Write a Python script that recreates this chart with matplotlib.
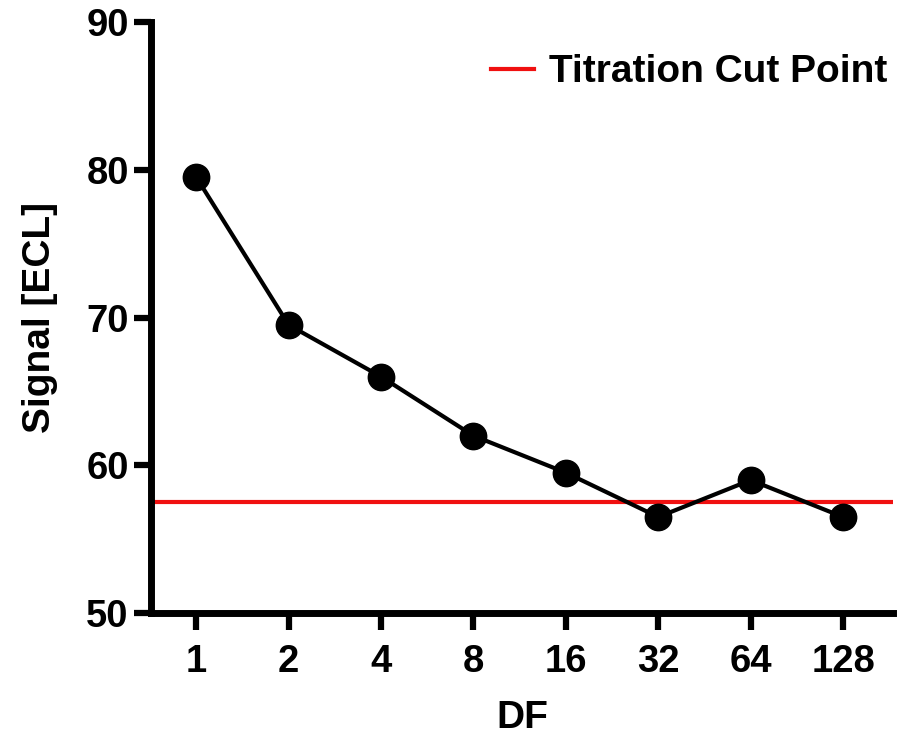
import matplotlib
matplotlib.use("Agg")
import matplotlib.pyplot as plt

categories = ["1", "2", "4", "8", "16", "32", "64", "128"]
signal = [79.5, 69.5, 66.0, 62.0, 59.5, 56.5, 59.0, 56.5]
cut_point = 57.5
yticks = [50, 60, 70, 80, 90]

plt.rcParams['font.family'] = ['Liberation Sans', 'DejaVu Sans']
plt.rcParams['font.weight'] = 'bold'

fig = plt.figure(figsize=(9.02, 7.37), dpi=100)
ax = fig.add_axes([0.1674, 0.1682, 0.8226, 0.8018])

x = list(range(len(categories)))
ax.axhline(cut_point, color='#f01010', lw=3.0, label='Titration Cut Point', zorder=2)
ax.plot(x, signal, color='black', lw=3.0, marker='o', markersize=19, zorder=3, clip_on=False)

ax.set_xlim(-0.49, 7.54)
ax.set_ylim(50, 90)
ax.set_xticks(x)
ax.set_xticklabels(categories)
ax.set_yticks(yticks)

for s in ['top', 'right']:
    ax.spines[s].set_visible(False)
for s in ['left', 'bottom']:
    ax.spines[s].set_linewidth(5)
ax.tick_params(axis='both', width=4.5, length=12, labelsize=27.5)
ax.tick_params(axis='x', pad=10)
ax.tick_params(axis='y', pad=4)

ax.set_xlabel('DF', fontsize=28, fontweight='bold', labelpad=15)
ax.set_ylabel('Signal [ECL]', fontsize=28, fontweight='bold', labelpad=20)

leg = ax.legend(loc='upper right', frameon=False, fontsize=28, handlelength=1.1,
                handletextpad=0.4, borderaxespad=0.2,
                bbox_to_anchor=(1.0 + 18 / 742, 1.0 - 9 / 591))

fig.savefig('out.png', dpi=100)
